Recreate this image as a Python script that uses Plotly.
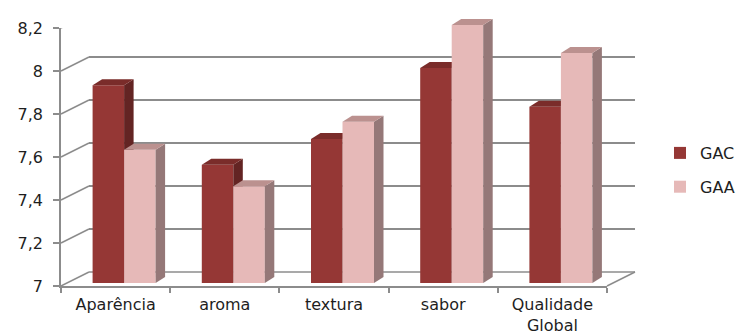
import plotly.graph_objects as go

categories = ["Aparência", "aroma", "textura", "sabor", "Qualidade<br>Global"]
gac = [7.92, 7.55, 7.67, 8.00, 7.82]
gaa = [7.62, 7.45, 7.75, 8.20, 8.07]
y_ticks = [7, 7.2, 7.4, 7.6, 7.8, 8, 8.2]
Y_MIN, Y_MAX = 7, 8.2

# layout geometry (pixels)
FIG_W, FIG_H = 736, 334
LEFT, FRONT_W, FRONT_H = 61, 546, 258
TOP_FRONT = 28
BACK_DX, BACK_DY = 28, 14
BAR_DX, BAR_DY = 8.5, 3
FACE_DX, FACE_DY = 9.5, 6
BAR_W_PX = 31.5

PW = FRONT_W + BACK_DX
PH = FRONT_H + BACK_DY
n = len(categories)
px_cat = FRONT_W / n
px_y = FRONT_H / (Y_MAX - Y_MIN)
w = BAR_W_PX / px_cat
dxd = FACE_DX / px_cat
dyd = FACE_DY / px_y
BAR_Y_TOP = Y_MIN + (PH - BAR_DY) / px_y
BAR_X_HI = -0.5 + (PW - BAR_DX) / px_cat

GRID = "#8c8c8c"
TXT = "#1e1e1e"
FONT = "DejaVu Sans"
FS = 16

gac_cols = dict(front="#953735", side="#632423", top="#7a2c2a")
gaa_cols = dict(front="#e6b9b8", side="#957878", top="#bb918f")

fig = go.Figure()

# front axis anchor trace (invisible) for category ticks
fig.add_trace(go.Scatter(x=categories, y=[Y_MIN] * n, mode="markers",
                         marker=dict(opacity=0), showlegend=False,
                         hoverinfo="skip", xaxis="x", yaxis="y"))

# back wall anchor (invisible)
fig.add_trace(go.Scatter(x=[0], y=[Y_MIN], mode="markers", marker=dict(opacity=0),
                         showlegend=False, hoverinfo="skip", xaxis="x2", yaxis="y2"))


def add_series(vals, name, cols, offset, xa, ya, group):
    xs = list(range(n))
    fig.add_trace(go.Bar(x=xs, y=[v - Y_MIN for v in vals], base=Y_MIN, width=w,
                         offset=offset, name=name, marker=dict(color=cols["front"], line=dict(width=0)),
                         xaxis=xa, yaxis=ya, legendgroup=group, hoverinfo="skip"))
    for i, v in enumerate(vals):
        a = i + offset
        b = a + w
        # side face
        fig.add_trace(go.Scatter(
            x=[b, b + dxd, b + dxd, b, b],
            y=[Y_MIN, Y_MIN + dyd, v + dyd, v, Y_MIN],
            fill="toself", fillcolor=cols["side"], mode="lines", line=dict(width=0),
            showlegend=False, hoverinfo="skip", xaxis=xa, yaxis=ya))
        # top face
        fig.add_trace(go.Scatter(
            x=[a, b, b + dxd, a + dxd, a],
            y=[v, v, v + dyd, v + dyd, v],
            fill="toself", fillcolor=cols["top"], mode="lines", line=dict(width=0),
            showlegend=False, hoverinfo="skip", xaxis=xa, yaxis=ya))


add_series(gac, "GAC", gac_cols, -w, "x3", "y3", "g1")
add_series(gaa, "GAA", gaa_cols, 0.0, "x4", "y4", "g2")

# left wall diagonals and floor edges
shapes = []
for t in y_ticks:
    shapes.append(dict(type="line", xref="paper", yref="y", ysizemode="pixel", yanchor=t,
                       x0=0, x1=BACK_DX / PW, y0=0, y1=BACK_DY,
                       line=dict(color=GRID, width=1.5), layer="below"))
# floor back edge
shapes.append(dict(type="line", xref="paper", yref="paper",
                   x0=BACK_DX / PW, x1=1, y0=BACK_DY / PH, y1=BACK_DY / PH,
                   line=dict(color=GRID, width=1.5), layer="below"))
# floor right edge
shapes.append(dict(type="line", xref="paper", yref="paper",
                   x0=FRONT_W / PW, x1=1, y0=0, y1=BACK_DY / PH,
                   line=dict(color=GRID, width=1.5), layer="below"))

bar_xdom = [BAR_DX / PW, 1]
bar_ydom = [BAR_DY / PH, 1]
hidden = dict(visible=False, fixedrange=True)

fig.update_layout(
    width=FIG_W, height=FIG_H,
    margin=dict(l=LEFT, r=FIG_W - LEFT - PW, t=TOP_FRONT - BACK_DY, b=FIG_H - TOP_FRONT - FRONT_H,
                pad=0, autoexpand=False),
    paper_bgcolor="white", plot_bgcolor="rgba(0,0,0,0)",
    separators=",.",
    font=dict(family=FONT, size=FS, color=TXT),
    showlegend=True,
    barmode="overlay",
    legend=dict(x=(660 - LEFT) / PW, y=(FIG_H - 48 - 170) / PH, xanchor="left", yanchor="middle",
                font=dict(size=FS, color=TXT), tracegroupgap=10, bgcolor="rgba(0,0,0,0)"),
    xaxis=dict(domain=[0, FRONT_W / PW], type="category", categoryarray=categories,
               range=[-0.5, n - 0.5], showgrid=False, showline=True, linecolor=GRID, linewidth=1.5,
               ticks="outside", tickson="boundaries", ticklen=5, tickcolor=GRID, tickwidth=1.5,
               ticklabelstandoff=3,
               tickfont=dict(size=FS, color=TXT), anchor="y", fixedrange=True),
    yaxis=dict(domain=[0, FRONT_H / PH], range=[Y_MIN, Y_MAX], tickvals=y_ticks,
               showgrid=False, zeroline=False, showline=True, linecolor=GRID, linewidth=1.5,
               ticks="outside", ticklen=6, tickcolor=GRID, tickwidth=1.5,
               ticklabelstandoff=7, tickfont=dict(size=FS, color=TXT), anchor="x", fixedrange=True),
    xaxis2=dict(domain=[BACK_DX / PW, 1], range=[0, 1], visible=False, anchor="y2", fixedrange=True),
    yaxis2=dict(domain=[BACK_DY / PH, 1], range=[Y_MIN, Y_MAX], tickvals=y_ticks, showgrid=True,
                gridcolor=GRID, gridwidth=1.5, showticklabels=False, ticks="", zeroline=False,
                showline=False, anchor="x2", fixedrange=True),
    xaxis3=dict(domain=bar_xdom, range=[-0.5, BAR_X_HI], anchor="y3", **hidden),
    yaxis3=dict(domain=bar_ydom, range=[Y_MIN, BAR_Y_TOP], anchor="x3", **hidden),
    xaxis4=dict(domain=bar_xdom, range=[-0.5, BAR_X_HI], anchor="y4", **hidden),
    yaxis4=dict(domain=bar_ydom, range=[Y_MIN, BAR_Y_TOP], anchor="x4", **hidden),
    shapes=shapes,
)

fig.write_html("out.html")
